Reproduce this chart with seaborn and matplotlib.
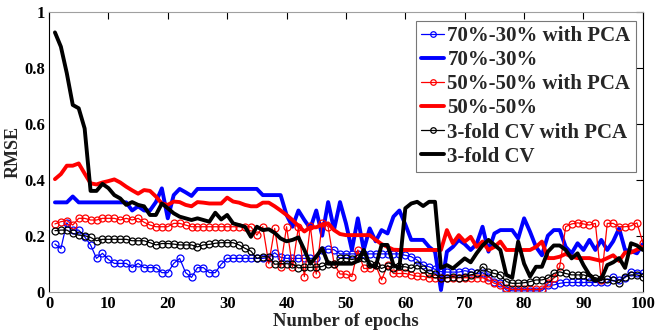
import matplotlib
matplotlib.use("Agg")
import matplotlib.pyplot as plt
import seaborn as sns
import numpy as np
from matplotlib.ticker import FuncFormatter, MultipleLocator

epochs = list(range(1, 101))

rmse_7030_pca = [
    .170, .154, .246, .220, .220, .196, .167, .119, .137, .115,
    .101, .101, .101, .086, .101, .086, .086, .086, .068, .068,
    .101, .119, .068, .051, .086, .086, .068, .068, .098, .119,
    .119, .119, .119, .119, .119, .119, .122, .139, .123, .119,
    .119, .119, .119, .119, .119, .150, .152, .150, .135, .135,
    .135, .135, .135, .135, .135, .135, .135, .135, .135, .130,
    .125, .113, .095, .089, .080, .072, .070, .070, .070, .075,
    .071, .065, .068, .054, .036, .030, .006, .003, .003, .003,
    .003, .003, .003, .024, .024, .030, .033, .033, .033, .033,
    .033, .033, .033, .033, .054, .042, .050, .070, .065, .065]

rmse_7030 = [
    .319, .319, .319, .340, .319, .319, .319, .319, .319, .319,
    .319, .319, .319, .290, .305, .290, .290, .320, .369, .262,
    .345, .367, .355, .342, .367, .367, .367, .367, .367, .367,
    .367, .367, .367, .367, .367, .345, .345, .345, .345, .274,
    .232, .290, .256, .226, .290, .200, .320, .222, .320, .244,
    .149, .262, .149, .226, .180, .220, .208, .268, .290, .240,
    .185, .185, .185, .160, .143, .006, .143, .160, .185, .170,
    .149, .170, .232, .143, .208, .220, .220, .220, .190, .262,
    .214, .160, .130, .200, .220, .220, .160, .137, .173, .149,
    .185, .149, .185, .149, .180, .226, .149, .145, .137, .170]

rmse_5050_pca = [
    .242, .250, .254, .238, .262, .262, .256, .256, .262, .262,
    .262, .256, .262, .256, .262, .248, .238, .232, .232, .232,
    .244, .244, .238, .232, .232, .232, .232, .232, .232, .232,
    .232, .232, .232, .232, .202, .232, .100, .226, .089, .232,
    .089, .232, .054, .235, .063, .246, .232, .100, .063, .063,
    .054, .149, .083, .083, .095, .042, .095, .065, .065, .065,
    .060, .055, .055, .050, .050, .048, .050, .050, .050, .050,
    .050, .050, .050, .042, .030, .024, .012, .008, .008, .008,
    .008, .008, .008, .030, .048, .090, .232, .242, .246, .242,
    .238, .244, .040, .244, .244, .232, .232, .235, .246, .175]

rmse_5050 = [
    .402, .420, .450, .450, .458, .422, .387, .383, .390, .395,
    .401, .390, .375, .362, .350, .363, .360, .340, .315, .310,
    .322, .320, .310, .305, .320, .318, .315, .315, .315, .336,
    .322, .318, .310, .305, .305, .318, .318, .305, .290, .274,
    .256, .235, .215, .230, .230, .240, .244, .220, .206, .202,
    .202, .202, .202, .202, .185, .170, .160, .150, .149, .149,
    .149, .149, .149, .149, .149, .149, .220, .173, .202, .179,
    .196, .160, .179, .149, .160, .179, .149, .149, .149, .149,
    .149, .160, .179, .120, .120, .125, .135, .125, .120, .120,
    .120, .115, .110, .120, .130, .110, .140, .140, .150, .160]

rmse_3fold_pca = [
    .218, .220, .220, .208, .202, .200, .194, .182, .187, .187,
    .187, .187, .187, .182, .182, .182, .175, .167, .172, .172,
    .170, .167, .167, .167, .160, .167, .169, .173, .175, .175,
    .175, .167, .155, .145, .119, .125, .125, .098, .100, .100,
    .098, .085, .087, .087, .088, .090, .100, .100, .119, .119,
    .115, .119, .119, .099, .095, .083, .092, .085, .090, .089,
    .083, .095, .080, .065, .063, .048, .050, .054, .050, .054,
    .060, .065, .089, .071, .065, .060, .036, .030, .030, .032,
    .036, .042, .042, .048, .065, .071, .065, .060, .060, .060,
    .054, .050, .044, .044, .040, .032, .054, .060, .060, .054]

rmse_3fold = [
    .926, .875, .780, .667, .655, .583, .360, .360, .385, .370,
    .345, .333, .310, .320, .310, .305, .274, .274, .315, .298,
    .280, .268, .262, .256, .262, .256, .250, .282, .258, .274,
    .244, .238, .232, .196, .232, .220, .223, .210, .190, .180,
    .185, .194, .149, .100, .125, .155, .100, .100, .100, .100,
    .100, .110, .149, .095, .089, .167, .167, .095, .085, .298,
    .315, .321, .306, .321, .321, .085, .095, .083, .101, .119,
    .105, .137, .165, .185, .167, .149, .060, .050, .179, .100,
    .054, .089, .089, .143, .165, .165, .149, .119, .137, .095,
    .060, .040, .045, .095, .105, .120, .085, .173, .165, .149]

series_labels = ["70%-30% with PCA", "70%-30%", "50%-50% with PCA",
                 "50%-50%", "3-fold CV with PCA", "3-fold CV"]
x_ticks = list(range(0, 101, 10))
y_ticks = [0, 0.2, 0.4, 0.6, 0.8, 1.0]

sns.set_style("white")
plt.rcParams['font.family'] = ['Liberation Serif', 'DejaVu Serif']
plt.rcParams['font.weight'] = 'bold'

fig = plt.figure(figsize=(6.56, 3.32), dpi=100)
ax = fig.add_axes([0.0747, 0.1214, 0.9053, 0.8434])

series = [
    (rmse_7030_pca, "#0000ff", True),
    (rmse_7030, "#0000ff", False),
    (rmse_5050_pca, "#ff0000", True),
    (rmse_5050, "#ff0000", False),
    (rmse_3fold_pca, "#000000", True),
    (rmse_3fold, "#000000", False),
]

for (vals, col, pca), lab in zip(series, series_labels):
    if pca:
        sns.lineplot(x=epochs, y=vals, ax=ax, color=col, linewidth=0.9,
                     marker='o', markersize=5, markerfacecolor='none',
                     markeredgecolor=col, markeredgewidth=0.9, label=lab)
    else:
        sns.lineplot(x=epochs, y=vals, ax=ax, color=col, linewidth=2.8,
                     label=lab)

ax.set_xlim(0, 100)
ax.set_ylim(0, 1)
ax.set_xticks(x_ticks)
ax.set_yticks(y_ticks)
ax.yaxis.set_major_formatter(FuncFormatter(lambda v, p: f"{v:g}"))
ax.tick_params(direction='in', top=True, right=True, length=5, width=0.8,
               labelsize=12, pad=3, colors='black')
for lbl in ax.get_xticklabels() + ax.get_yticklabels():
    lbl.set_fontweight('bold')

for side in ['left', 'right']:
    ax.spines[side].set_color('black')
    ax.spines[side].set_linewidth(0.8)
for side in ['top', 'bottom']:
    ax.spines[side].set_color('#a0a0a0')
    ax.spines[side].set_linewidth(0.8)

ax.set_xlabel("Number of epochs", fontsize=13.5, fontweight='bold', labelpad=0.5)
ax.set_ylabel("RMSE", fontsize=13, fontweight='bold', labelpad=2)

leg = ax.legend(loc='upper right', bbox_to_anchor=(0.988, 0.968),
                fontsize=15, frameon=True, fancybox=False,
                handlelength=1.1, handletextpad=0.15, labelspacing=0.2,
                borderpad=0.25, borderaxespad=0.0, markerscale=0.8)
leg.get_frame().set_edgecolor('#555555')
leg.get_frame().set_linewidth(0.8)
for t in leg.get_texts():
    t.set_fontweight('bold')

fig.savefig("out.png", dpi=100)
